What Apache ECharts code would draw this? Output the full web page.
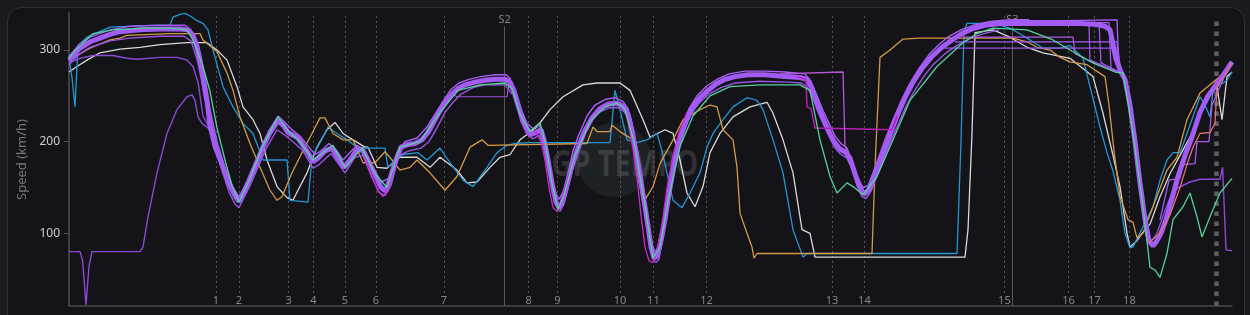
<!DOCTYPE html>
<html><head><meta charset="utf-8">
<script src="https://cdn.jsdelivr.net/npm/echarts@6/dist/echarts.min.js"></script>
<style>
html,body{margin:0;padding:0;background:#1b1a1f;width:1250px;height:315px;overflow:hidden;}
.card{position:absolute;left:7px;top:7px;width:1236px;height:340px;border:1px solid #2e2e33;border-radius:14px;background:#141317;}
.wm-circle{position:absolute;left:577px;top:123px;width:74px;height:74px;border-radius:50%;background:rgba(70,90,95,0.22);}
.wm-text{position:absolute;left:525px;top:138px;width:200px;height:44px;line-height:44px;text-align:center;font:bold 36px "Noto Sans",sans-serif;color:rgba(255,255,255,0.13);transform:scaleX(0.8);transform-origin:center;white-space:nowrap;}
#chart{position:absolute;left:0;top:0;width:1250px;height:315px;}
</style></head>
<body><div class="card"></div><div class="wm-circle"></div><div class="wm-text">GP TEMPO</div><div id="chart"></div>
<script>
// ---- annotations ----
const cornerNames = ['1','2','3','4','5','6','7','8','9','10','11','12','13','14','15','16','17','18'];
const cornerDist  = [735,850,1098,1222,1380,1535,1875,2298,2442,2755,2922,3188,3815,3977,4677,4998,5127,5302];
const sectorNames = ['S2','S3'];
const sectorDist  = [2178,4717];
const finishDist  = 5735;
const yTicks = [100,200,300];

// ---- speed traces [distance m, km/h] ----
const mainTrace = [[0,289],[30,296],[55,302],[105,309],[155,313],[205,317],[255,320],[355,322],[455,323],[555,323],[595,322],[620,316],[640,304],[655,289],[675,265],[690,245],[705,218],[730,195],[755,181],[780,166],[805,152],[830,141],[850,135],[875,145],[905,160],[940,178],[970,194],[1005,210],[1045,223],[1070,218],[1095,210],[1120,207],[1145,204],[1170,196],[1195,188],[1220,178],[1245,182],[1280,190],[1315,193],[1345,182],[1375,172],[1405,180],[1435,190],[1465,192],[1495,180],[1530,164],[1560,150],[1585,146],[1610,163],[1635,180],[1660,194],[1695,197],[1730,198],[1765,202],[1795,210],[1825,222],[1855,234],[1885,244],[1915,252],[1945,258],[1980,262],[2030,265],[2080,267],[2130,268],[2180,268],[2205,265],[2225,255],[2245,240],[2265,226],[2290,214],[2310,208],[2335,210],[2360,213],[2375,202],[2395,180],[2415,155],[2435,134],[2450,128],[2465,133],[2485,148],[2510,170],[2540,190],[2575,210],[2615,226],[2655,236],[2695,241],[2740,242],[2770,239],[2795,230],[2815,212],[2835,188],[2855,164],[2875,136],[2895,108],[2910,85],[2925,73],[2940,75],[2960,92],[2980,115],[3005,150],[3030,180],[3055,203],[3085,222],[3120,238],[3155,248],[3195,256],[3235,263],[3280,268],[3330,271],[3395,273],[3480,273],[3580,271],[3655,270],[3690,268],[3715,258],[3740,243],[3765,228],[3795,213],[3825,200],[3855,192],[3885,188],[3905,182],[3930,165],[3955,150],[3975,143],[3995,146],[4020,158],[4045,172],[4075,190],[4105,208],[4140,228],[4180,248],[4220,265],[4265,280],[4315,293],[4365,303],[4415,311],[4465,318],[4515,323],[4580,327],[4655,329],[4755,330],[4855,330],[4955,330],[5055,329],[5130,328],[5180,326],[5205,322],[5235,290],[5260,276],[5280,268],[5305,240],[5330,200],[5355,155],[5380,115],[5400,92],[5420,86],[5440,92],[5460,100],[5485,115],[5515,138],[5545,162],[5580,185],[5615,205],[5655,232],[5695,250],[5735,262],[5775,274],[5815,287]];

const purpleUpperA = [[0,293],[50,306],[105,314],[205,322],[305,326],[455,327],[580,327],[610,322],[635,305],[650,290]];
const purpleLowerA = [[0,284],[55,296],[105,303],[205,310],[305,313],[455,315],[575,315],[610,310],[640,290],[660,270],[680,245]];
const purpleLowerB = [[690,238],[720,205],[760,172],[800,145],[830,132],[850,128],[870,137],[905,152],[945,172],[985,192],[1040,213],[1080,207],[1120,200],[1170,190],[1220,171],[1250,175],[1310,187],[1350,175],[1380,166],[1430,183],[1470,185],[1510,163],[1550,145],[1580,141],[1610,152],[1650,185],[1700,190],[1760,193],[1800,200],[1840,215],[1880,232],[1920,243],[1960,252],[2020,259],[2080,262],[2180,262],[2215,252]];
const purpleUpperB = [[700,240],[740,200],[780,172],[820,150],[850,140],[880,152],[920,172],[960,193],[1000,212],[1045,228],[1075,222],[1110,214],[1160,205],[1200,194],[1230,186],[1260,190],[1300,198],[1340,190],[1370,180],[1400,187],[1440,196],[1480,190],[1520,172],[1560,156],[1600,160],[1640,188],[1680,200],[1740,204],[1790,216],[1830,230],[1870,244],[1910,257],[1950,264],[2000,268],[2060,271],[2130,273],[2185,273],[2210,268]];
const purpleStepS2 = [[1915,252],[1940,249],[2190,249],[2200,264]];
const purpleUpperC = [[2200,270],[2230,258],[2260,236],[2290,220],[2320,214],[2350,218],[2370,210],[2390,190],[2410,165],[2430,145],[2450,137],[2470,145],[2495,165],[2520,190],[2550,208],[2590,228],[2630,240],[2680,246],[2730,248],[2770,244],[2795,236],[2815,220],[2840,192],[2860,165],[2880,135],[2900,105],[2920,84],[2935,80],[2950,88],[2970,110],[2990,140],[3015,172],[3040,198],[3070,220],[3100,236],[3140,250],[3190,261],[3240,268],[3300,274],[3380,277],[3480,277],[3580,276],[3680,274],[3710,266],[3740,250],[3770,234],[3800,220],[3830,206],[3860,198],[3890,193],[3920,176],[3945,160],[3970,150],[3995,152],[4020,166],[4050,184],[4080,202],[4120,224],[4160,244],[4200,262],[4250,280],[4300,295],[4350,306],[4400,315],[4460,322],[4520,327],[4600,331],[4700,333],[4800,333]];
const purpleLowerC = [[2200,262],[2230,250],[2260,222],[2290,208],[2320,203],[2350,207],[2375,195],[2395,170],[2420,145],[2440,128],[2455,124],[2475,132],[2500,155],[2530,180],[2565,202],[2600,220],[2650,232],[2700,237],[2750,237],[2780,232],[2805,220],[2825,200],[2845,175],[2865,150],[2885,120],[2905,92],[2920,72],[2935,68],[2950,72],[2970,95],[2995,128],[3020,160],[3045,190],[3075,212],[3110,230],[3150,242],[3200,252],[3260,259],[3330,264],[3450,266],[3600,265],[3660,264],[3690,260],[3715,250],[3740,235],[3770,220],[3800,206],[3830,193],[3860,186],[3890,182],[3915,170],[3940,152],[3965,140],[3985,138],[4010,146],[4035,160],[4065,176],[4100,196],[4140,216],[4180,236],[4220,253],[4270,270],[4320,284],[4380,296],[4440,305],[4500,312],[4560,317],[4650,322]];
const purpleFlat1 = [[4340,298],[4365,302],[5245,302],[5260,274]];
const purpleFlat2 = [[4430,309],[5240,309],[5252,275]];
const purpleFlat3 = [[4470,314],[5020,314],[5030,296],[5130,285],[5250,275]];
const purpleFlat4 = [[4600,331],[5240,333],[5250,276]];
const purpleFlat5 = [[4600,327],[5100,327],[5105,289],[5180,282],[5250,276]];
const purpleFlat6 = [[4650,329],[5150,329],[5160,286],[5250,276]];
const purpleFlat7 = [[4650,330],[5200,330],[5210,280],[5250,276]];
const purpleStairs = [[5455,115],[5500,158],[5555,160],[5570,175],[5630,176],[5640,200],[5700,200],[5715,240],[5775,270]];

const pitOut = [[0,80],[55,80],[68,70],[85,22],[100,64],[115,80],[355,80],[370,85],[395,118],[440,166],[490,209],[540,235],[590,249],[615,251],[630,245],[645,227],[665,220],[695,215],[720,205],[740,195]];
const pitIn = [[5400,88],[5440,100],[5480,125],[5520,147],[5605,156],[5655,159],[5755,159],[5768,172],[5785,82],[5815,81]];
const slowStart = [[0,286],[55,291],[120,294],[220,294],[290,291],[340,290],[455,292],[540,292],[590,289],[620,282],[645,265],[670,228],[695,218],[720,213],[745,190]];

const magentaT6 = [[1480,185],[1510,165],[1545,146],[1570,140],[1595,150],[1620,168]];
const magentaT9 = [[2330,212],[2360,200],[2380,180],[2400,150],[2420,128],[2440,124],[2460,135],[2500,165]];
const magentaT11 = [[2790,228],[2820,192],[2840,160],[2860,120],[2880,85],[2900,70],[2920,68],[2940,80],[2965,110],[2990,150],[3020,185],[3050,210],[3090,232]];
const magentaStep = [[3640,271],[3685,268],[3690,238],[3710,236],[3730,215],[4115,213],[4140,228]];
const pinkStep = [[3555,274],[3870,276],[3880,195],[3905,182]];
const salmonEnd = [[5400,90],[5455,100],[5505,120],[5555,150],[5590,175],[5620,194],[5655,209],[5705,210],[5730,220],[5740,260],[5780,272],[5815,287]];

const blueTrace = [[0,291],[15,270],[30,238],[45,305],[90,314],[205,325],[405,327],[505,327],[520,336],[555,339],[580,340],[615,336],[640,332],[670,329],[695,322],[720,300],[770,260],[820,238],[870,220],[920,209],[970,180],[1090,180],[1105,136],[1195,134],[1215,183],[1255,199],[1295,216],[1340,209],[1390,202],[1440,194],[1480,193],[1580,193],[1595,172],[1630,180],[1670,186],[1745,188],[1790,180],[1855,193],[1905,177],[1970,158],[2020,151],[2090,172],[2140,188],[2190,196],[2230,198],[2305,199],[2705,199],[2730,256],[2755,235],[2790,202],[2840,199],[2890,202],[2940,209],[2965,190],[2990,166],[3020,136],[3065,128],[3105,144],[3155,166],[3190,194],[3220,209],[3270,224],[3320,238],[3390,248],[3440,245],[3470,235],[3520,202],[3570,166],[3620,104],[3670,74],[3690,78],[4440,78],[4460,200],[4475,320],[4490,329],[4620,329],[4705,324],[4790,313],[4870,302],[4955,302],[5005,305],[5070,291],[5105,260],[5155,216],[5190,188],[5220,168],[5255,136],[5280,100],[5305,84],[5320,85],[5370,107],[5420,129],[5455,158],[5490,180],[5520,188],[5555,188],[5590,209],[5655,249],[5680,240],[5705,227],[5720,256],[5755,262],[5790,267],[5815,276]];
const whiteTrace = [[0,276],[40,282],[90,289],[155,297],[255,301],[355,303],[455,306],[590,308],[690,308],[740,300],[790,289],[840,260],[870,238],[920,224],[955,209],[990,180],[1040,151],[1090,139],[1120,136],[1145,147],[1190,166],[1240,194],[1290,213],[1330,221],[1370,209],[1420,202],[1480,194],[1495,194],[1540,172],[1590,171],[1655,183],[1740,183],[1805,172],[1855,183],[1940,169],[1990,155],[2040,156],[2105,172],[2155,183],[2205,186],[2255,202],[2340,216],[2405,235],[2470,249],[2570,262],[2640,264],[2755,264],[2805,256],[2870,224],[2905,205],[2980,213],[3020,209],[3055,180],[3090,144],[3130,129],[3170,151],[3205,188],[3255,209],[3320,227],[3405,238],[3490,243],[3520,231],[3570,202],[3620,166],[3665,104],[3705,100],[3730,74],[4480,74],[4495,104],[4515,209],[4530,319],[4620,322],[4705,314],[4790,303],[4870,297],[5005,291],[5120,271],[5170,231],[5220,185],[5255,151],[5290,100],[5305,85],[5340,92],[5365,100],[5405,110],[5455,140],[5505,165],[5555,185],[5605,205],[5655,230],[5705,250],[5740,260],[5765,224],[5790,271],[5815,276]];
const orangeTrace = [[0,289],[105,302],[205,311],[255,313],[290,316],[505,318],[590,318],[655,318],[670,311],[740,298],[790,275],[820,256],[855,227],[905,198],[955,172],[1005,147],[1040,136],[1065,140],[1115,166],[1165,188],[1215,209],[1255,226],[1280,226],[1320,209],[1370,202],[1420,202],[1470,177],[1530,177],[1580,189],[1615,180],[1655,169],[1705,172],[1740,180],[1805,166],[1880,147],[1940,162],[2005,194],[2065,202],[2095,196],[2590,198],[2620,216],[2640,211],[2705,211],[2715,218],[2755,211],[2820,202],[2845,162],[2870,133],[2920,151],[2955,176],[3020,202],[3070,224],[3155,235],[3205,240],[3240,238],[3270,213],[3320,202],[3340,172],[3355,122],[3390,100],[3415,85],[3425,73],[3440,78],[4015,78],[4030,172],[4055,292],[4105,300],[4170,312],[4255,313],[4720,313],[4790,309],[4840,303],[4905,300],[4955,292],[5005,287],[5090,284],[5180,271],[5200,240],[5225,190],[5255,140],[5295,115],[5320,112],[5340,95],[5370,100],[5420,129],[5490,169],[5540,183],[5590,224],[5655,253],[5755,271],[5815,286]];
const greenTrace = [[0,291],[20,297],[120,318],[220,322],[370,324],[505,324],[590,322],[620,311],[670,282],[705,255],[740,215],[780,180],[815,152],[850,134],[905,160],[970,196],[1045,227],[1095,212],[1155,200],[1220,180],[1320,196],[1380,172],[1465,193],[1530,165],[1590,150],[1655,194],[1755,200],[1855,232],[1945,256],[2055,262],[2180,264],[2215,258],[2255,230],[2305,211],[2355,221],[2385,195],[2415,155],[2445,126],[2475,142],[2530,185],[2605,222],[2680,238],[2740,242],[2780,236],[2830,195],[2880,130],[2920,73],[2955,85],[2995,135],[3055,195],[3120,228],[3205,250],[3305,260],[3455,262],[3655,262],[3705,256],[3755,202],[3805,162],[3840,144],[3890,155],[3920,151],[3970,142],[4040,162],[4120,202],[4205,245],[4340,282],[4470,308],[4540,318],[4620,324],[4790,322],[4920,311],[5005,300],[5120,286],[5230,276],[5270,275],[5320,209],[5370,129],[5405,63],[5430,60],[5455,52],[5490,78],[5520,115],[5570,129],[5605,144],[5640,118],[5665,96],[5705,118],[5755,144],[5815,160]];

// ---- chart ----
const PURPLE = '#a35cf3';
function ln(name, data, color, width, z, opacity){
  return {name, type:'line', data, showSymbol:false, symbol:'none', smooth:false, z:z||2,
    lineStyle:{color, width, opacity: opacity==null?1:opacity}, itemStyle:{color}, emphasis:{disabled:true}, silent:true, animation:false};
}

const markData = [];
cornerNames.forEach((n,i)=>{
  markData.push([{name:n, coord:[cornerDist[i],35],
      lineStyle:{color:'#595959', type:[2,3], width:1},
      label:{show:true, position:'start', formatter:'{b}', color:'#858585', fontSize:11, distance:2, fontFamily:'Noto Sans'}},
    {coord:[cornerDist[i],339]}]);
});
sectorNames.forEach((n,i)=>{
  markData.push([{name:n, coord:[sectorDist[i],20.7],
      lineStyle:{color:'#575757', type:'solid', width:1},
      label:{show:true, position:'end', formatter:'{b}', color:'#858585', fontSize:11, distance:1, fontFamily:'Noto Sans'}},
    {coord:[sectorDist[i],326]}]);
});
markData.push([{name:'', coord:[finishDist,20.7],
    lineStyle:{color:'#5e5e5e', type:[4.5,5.5], width:4.5}, label:{show:false}},
  {coord:[finishDist,334]}]);

const series = [
  ln('white', whiteTrace, '#d9d9d9', 1.3, 2),
  ln('blue', blueTrace, '#2397d3', 1.3, 2),
  ln('orange', orangeTrace, '#d49a45', 1.3, 2),
  ln('slow', slowStart, '#8a4ad6', 1.4, 3),
  ln('pitOut', pitOut, '#8a4ad6', 1.4, 3),
  ln('pitIn', pitIn, '#8a4ad6', 1.4, 3),
  ln('pUA', purpleUpperA, PURPLE, 1.4, 3),
  ln('pLA', purpleLowerA, '#9a55e6', 1.4, 3),
  ln('pLB', purpleLowerB, '#9a55e6', 1.4, 3),
  ln('pUB', purpleUpperB, '#a960f7', 1.4, 3),
  ln('pUC', purpleUpperC, '#a960f7', 1.4, 3),
  ln('pLC', purpleLowerC, '#9a55e6', 1.4, 3),
  ln('pS2', purpleStepS2, '#9850e0', 1.2, 3),
  ln('f1', purpleFlat1, '#9a55e6', 1.2, 3),
  ln('f2', purpleFlat2, '#a35cf3', 1.2, 3),
  ln('f3', purpleFlat3, '#b35ae6', 1.2, 3),
  ln('f4', purpleFlat4, '#a960f7', 1.3, 3),
  ln('f5', purpleFlat5, '#a35cf3', 1.2, 3),
  ln('f6', purpleFlat6, '#a35cf3', 1.2, 3),
  ln('f7', purpleFlat7, '#a960f7', 1.2, 3),
  ln('main', mainTrace, PURPLE, 5, 4),
  ln('stairs', purpleStairs, '#a35cf3', 1.3, 5),
  ln('magT6', magentaT6, '#c62ccd', 1.3, 5),
  ln('magT9', magentaT9, '#c62ccd', 1.3, 5),
  ln('magT11', magentaT11, '#c62ccd', 1.3, 5),
  ln('magStep', magentaStep, '#b81fb8', 1.5, 5),
  ln('pinkStep', pinkStep, '#b457d8', 1.3, 5),
  ln('salmon', salmonEnd, '#e0736a', 1.3, 5),
  ln('green', greenTrace, '#52d497', 1.3, 6)
];
series[0].markLine = {silent:true, symbol:['none','none'], animation:false, data:markData, z:1};

const chart = echarts.init(document.getElementById('chart'), null, {renderer:'canvas'});
chart.setOption({
  backgroundColor:'transparent',
  animation:false,
  grid:{left:69, right:18, top:13, bottom:9, containLabel:false},
  xAxis:{type:'value', min:0, max:5815, axisLine:{show:true, lineStyle:{color:'#4a4a4a', width:1.5}},
    axisTick:{show:false}, axisLabel:{show:false}, splitLine:{show:false}},
  yAxis:{type:'value', min:20.7, max:340.4, name:'Speed (km/h)', nameLocation:'middle', nameGap:40,
    nameTextStyle:{color:'#767676', fontSize:13, fontFamily:'Noto Sans'},
    axisLine:{show:true, lineStyle:{color:'#505050', width:1.5}},
    axisTick:{show:true, length:5, customValues:yTicks, lineStyle:{color:'#505050'}},
    axisLabel:{show:true, customValues:yTicks, color:'#cfcfcf', fontSize:12, margin:9, fontFamily:'Noto Sans'},
    splitLine:{show:false}},
  series
});
</script>
</body></html>
